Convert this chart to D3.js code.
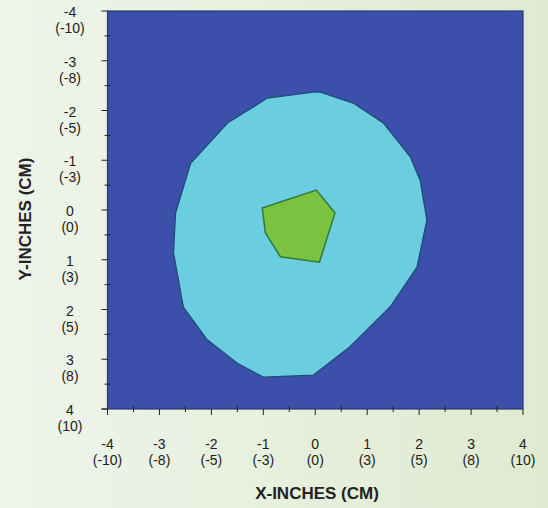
<!DOCTYPE html>
<html><head><meta charset="utf-8">
<script src="https://cdn.jsdelivr.net/npm/d3@7"></script>
<style>html,body{margin:0;padding:0;}svg{display:block;}</style>
</head><body><svg id="c" width="548" height="508"></svg>
<script>
// tick values (inches) and labels (cm)
const tickInches = [-4, -3, -2, -1, 0, 1, 2, 3, 4];
const tickCm = ["(-10)", "(-8)", "(-5)", "(-3)", "(0)", "(3)", "(5)", "(8)", "(10)"];
const minorTicks = [-3.5, -2.5, -1.5, -0.5, 0.5, 1.5, 2.5, 3.5];

// contour zones (x, y in inches)
const outerZoneX = [-0.04, -0.92, -1.69, -2.40, -2.69, -2.73, -2.54, -2.08, -1.50, -1.00, -0.04, 0.67, 1.44, 1.96, 2.15, 2.02, 1.83, 1.31, 0.73, 0.10];
const outerZoneY = [-2.37, -2.25, -1.75, -0.94, 0.06, 0.86, 1.95, 2.61, 3.08, 3.36, 3.32, 2.75, 1.95, 1.15, 0.20, -0.60, -1.07, -1.75, -2.15, -2.37];
const innerZoneX = [-1.02, 0.02, 0.38, 0.08, -0.67, -0.96];
const innerZoneY = [-0.04, -0.40, 0.06, 1.05, 0.94, 0.46];

const svg = d3.select("#c");
const defs = svg.append("defs");
const bg = defs.append("linearGradient").attr("id", "bg").attr("x1", "0").attr("x2", "1").attr("y1", "0").attr("y2", "0");
bg.append("stop").attr("offset", "0").attr("stop-color", "#eff4ea");
bg.append("stop").attr("offset", "1").attr("stop-color", "#dfead0");
svg.append("rect").attr("width", 548).attr("height", 508).attr("fill", "url(#bg)");

const x = d3.scaleLinear().domain([-4, 4]).range([107.5, 523]);
const y = d3.scaleLinear().domain([-4, 4]).range([11, 409]);

// plot background
svg.append("rect").attr("x", x(-4)).attr("y", y(-4)).attr("width", x(4) - x(-4)).attr("height", y(4) - y(-4))
  .attr("fill", "#3b4fab").attr("stroke", "#2a3a6a").attr("stroke-width", 1.2);

const line = d3.line().x(d => x(d[0])).y(d => y(d[1])).curve(d3.curveLinearClosed);
const outer = outerZoneX.map((v, i) => [v, outerZoneY[i]]);
const inner = innerZoneX.map((v, i) => [v, innerZoneY[i]]);
svg.append("path").attr("d", line(outer)).attr("fill", "#6bcde0").attr("stroke", "#1f4a78").attr("stroke-width", 1.3);
svg.append("path").attr("d", line(inner)).attr("fill", "#7cc241").attr("stroke", "#2f7a3a").attr("stroke-width", 1.5);

// axes
const ax = svg.append("g").attr("stroke", "#222").attr("stroke-width", 1);
ax.append("line").attr("x1", x(-4) - 6).attr("x2", x(-4)).attr("y1", y(4)).attr("y2", y(4));
tickInches.forEach(t => {
  ax.append("line").attr("x1", x(t)).attr("x2", x(t)).attr("y1", y(4)).attr("y2", y(4) + 6);
  ax.append("line").attr("x1", x(-4) - 6).attr("x2", x(-4)).attr("y1", y(t)).attr("y2", y(t));
});
minorTicks.forEach(t => {
  ax.append("line").attr("x1", x(t)).attr("x2", x(t)).attr("y1", y(4) - 3).attr("y2", y(4) + 3);
  ax.append("line").attr("x1", x(-4) - 3).attr("x2", x(-4) + 3).attr("y1", y(t)).attr("y2", y(t));
});

const font = "Liberation Sans, Arial, sans-serif";
const lab = svg.append("g").attr("font-family", font).attr("font-size", 14).attr("fill", "#222").attr("text-anchor", "middle");
tickInches.forEach((t, i) => {
  lab.append("text").attr("x", x(t)).attr("y", 449).text(String(t));
  lab.append("text").attr("x", x(t)).attr("y", 465).text(tickCm[i]);
  lab.append("text").attr("x", 70).attr("y", y(t) + 6).text(String(t));
  lab.append("text").attr("x", 70).attr("y", y(t) + 22).text(tickCm[i]);
});

svg.append("text").attr("x", 317).attr("y", 499).attr("text-anchor", "middle")
  .attr("font-family", font).attr("font-weight", "bold").attr("font-size", 17).attr("fill", "#222").text("X-INCHES (CM)");
svg.append("text").attr("transform", "translate(31,219) rotate(-90)").attr("text-anchor", "middle")
  .attr("font-family", font).attr("font-weight", "bold").attr("font-size", 17).attr("fill", "#222").text("Y-INCHES (CM)");
</script></body></html>
